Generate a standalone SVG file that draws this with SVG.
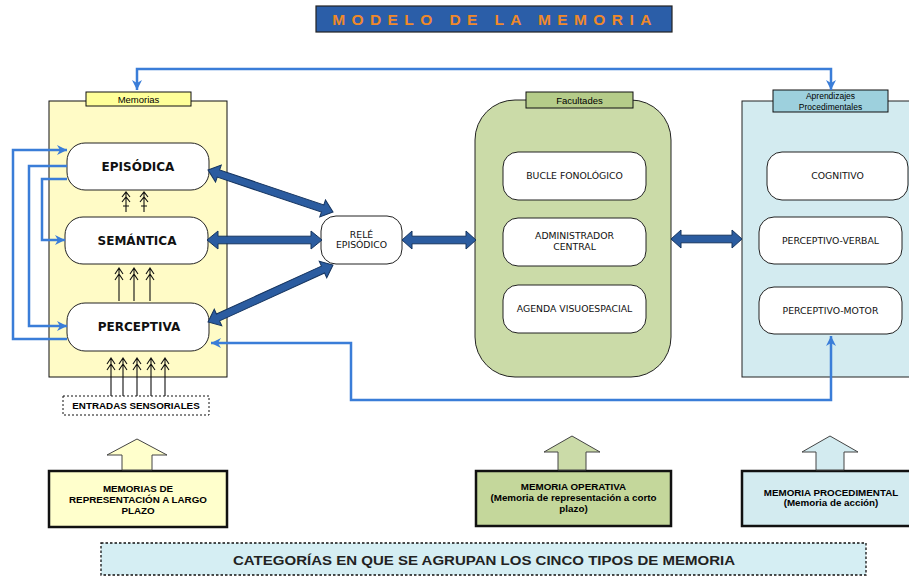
<svg xmlns="http://www.w3.org/2000/svg" width="909" height="576" viewBox="0 0 909 576">
<style>
.lbl{font-family:"Liberation Sans",Arial,sans-serif;fill:#000;text-anchor:middle}
.cm{font-family:"DejaVu Sans","Liberation Sans",sans-serif;fill:#111;text-anchor:middle}
.big{font-size:12px;font-weight:bold}
.sm{font-size:9.3px}
.bt{font-family:"Liberation Sans",Arial,sans-serif;font-size:9.8px;font-weight:bold;text-anchor:middle;fill:#000}
.ibox{fill:#fff;stroke:#222;stroke-width:1}
.thin{fill:none;stroke:#3a7dd8;stroke-width:2.5}
.blk{fill:#2b5ca0;stroke:#15345f;stroke-width:1}
.sa{fill:none;stroke:#111;stroke-width:1.1}
.bbox{stroke:#111;stroke-width:2.5}
.uarr{stroke:#444;stroke-width:1}
</style>
<defs>
<marker id="ah" markerUnits="userSpaceOnUse" markerWidth="11" markerHeight="10" refX="10" refY="5" orient="auto-start-reverse">
<path d="M0,0 L10,5 L0,10 L3,5 Z" fill="#3a7dd8"/>
</marker>
</defs>

<g id="title">
<rect x="316" y="6" width="356" height="26" fill="#2b5ea8" stroke="#222" stroke-width="1.2"/>
<text x="495" y="24.5" font-family="Liberation Sans,Arial,sans-serif" font-size="15.5" font-weight="bold" fill="#f0892a" text-anchor="middle" letter-spacing="6.4">MODELO DE LA MEMORIA</text>
</g>

<g id="memorias">
<rect x="49" y="101" width="178" height="276" fill="#fffbc6" stroke="#111" stroke-width="1"/>
<rect x="86" y="92" width="105" height="14" fill="#ffff99" stroke="#111" stroke-width="1"/>
<text class="lbl" x="138.5" y="102.5" font-size="9.5">Memorias</text>
</g>
<g id="episodica">
<rect class="ibox" x="67" y="143" width="142" height="47" rx="18"/>
<text class="cm big" x="138" y="171">EPISÓDICA</text>
</g>
<g id="semantica">
<rect class="ibox" x="65" y="217" width="143" height="47" rx="18"/>
<text class="cm big" x="137" y="244.5">SEMÁNTICA</text>
</g>
<g id="perceptiva">
<rect class="ibox" x="67" y="303" width="142" height="48" rx="18"/>
<text class="cm big" x="139" y="331">PERCEPTIVA</text>
</g>
<g id="entradas">
<rect x="63" y="396" width="146" height="19" fill="#fff" stroke="#111" stroke-width="1" stroke-dasharray="2,2"/>
<text class="bt" x="136" y="409" font-size="8.8">ENTRADAS SENSORIALES</text>
</g>

<g id="rele">
<rect class="ibox" x="321" y="216" width="81" height="48" rx="15"/>
<text class="cm sm" x="361.5" y="238">RELÉ</text>
<text class="cm sm" x="361.5" y="248">EPISÓDICO</text>
</g>

<g id="facultades">
<rect x="475" y="100" width="196" height="277" rx="40" fill="#cbdba8" stroke="#222" stroke-width="1"/>
<rect x="526" y="92" width="107" height="16" fill="#b5cc89" stroke="#111" stroke-width="1"/>
<text class="lbl" x="579.5" y="103.5" font-size="9.5">Facultades</text>
</g>
<g id="bucle">
<rect class="ibox" x="503" y="152" width="143" height="48" rx="15"/>
<text class="cm sm" x="574.5" y="179">BUCLE FONOLÓGICO</text>
</g>
<g id="administrador">
<rect class="ibox" x="503" y="218" width="143" height="48" rx="15"/>
<text class="cm sm" x="574.5" y="239">ADMINISTRADOR</text>
<text class="cm sm" x="574.5" y="250">CENTRAL</text>
</g>
<g id="agenda">
<rect class="ibox" x="503" y="285" width="143" height="48" rx="15"/>
<text class="cm sm" x="574.5" y="312">AGENDA VISUOESPACIAL</text>
</g>

<g id="aprendizajes">
<rect x="742" y="101" width="172" height="276" fill="#d3ebf0" stroke="#222" stroke-width="1"/>
<rect x="773" y="90" width="115" height="22" fill="#9dd0dd" stroke="#111" stroke-width="1"/>
<text class="lbl" x="830.5" y="99" font-size="8.5" fill="#222">Aprendizajes</text>
<text class="lbl" x="830.5" y="109.5" font-size="8.5" fill="#222">Procedimentales</text>
</g>
<g id="cognitivo">
<rect class="ibox" x="767" y="152" width="141" height="48" rx="15"/>
<text class="cm sm" x="837.5" y="179">COGNITIVO</text>
</g>
<g id="perceptivo-verbal">
<rect class="ibox" x="759" y="217" width="143" height="47" rx="15"/>
<text class="cm sm" x="830.5" y="243.5">PERCEPTIVO-VERBAL</text>
</g>
<g id="perceptivo-motor">
<rect class="ibox" x="759" y="287" width="143" height="47" rx="15"/>
<text class="cm sm" x="830.5" y="313.5">PERCEPTIVO-MOTOR</text>
</g>

<g id="largo-plazo">
<rect class="bbox" x="49" y="471" width="178" height="56" fill="#ffffcc"/>
<text class="bt" x="138" y="492">MEMORIAS DE</text>
<text class="bt" x="138" y="503">REPRESENTACIÓN A LARGO</text>
<text class="bt" x="138" y="514">PLAZO</text>
</g>
<g id="operativa">
<rect class="bbox" x="476" y="471" width="195" height="55" fill="#c4d79b"/>
<text class="bt" x="573.5" y="490">MEMORIA OPERATIVA</text>
<text class="bt" x="573.5" y="501">(Memoria de representación a corto</text>
<text class="bt" x="573.5" y="512">plazo)</text>
</g>
<g id="procedimental">
<rect class="bbox" x="742" y="471" width="172" height="55" fill="#d3ebf0"/>
<text class="bt" x="831" y="496">MEMORIA PROCEDIMENTAL</text>
<text class="bt" x="831" y="506">(Memoria de acción)</text>
</g>
<g id="categorias">
<rect x="101" y="543" width="765" height="32" fill="#d5eef3" stroke="#111" stroke-width="1.3" stroke-dasharray="2.5,2"/>
<text x="484" y="564.5" font-family="Liberation Sans,Arial,sans-serif" font-size="13.5" font-weight="bold" text-anchor="middle" fill="#222" textLength="502" lengthAdjust="spacingAndGlyphs">CATEGORÍAS EN QUE SE AGRUPAN LOS CINCO TIPOS DE MEMORIA</text>
</g>

<g id="connectors">
<path class="thin" d="M137,90 L137,69 L831,69 L831,90" marker-start="url(#ah)" marker-end="url(#ah)"/>
<path class="thin" d="M67,339 L13,339 L13,150 L67,150" marker-end="url(#ah)"/>
<path class="thin" d="M67,166 L29,166 L29,326 L67,326" marker-end="url(#ah)"/>
<path class="thin" d="M67,179 L42,179 L42,240 L65,240" marker-end="url(#ah)"/>
<path class="thin" d="M211,343 L351,343 L351,400 L831,400 L831,336" marker-start="url(#ah)" marker-end="url(#ah)"/>

<path class="blk" transform="translate(208,170) rotate(18.57)" d="M0,0 L11,-9 L11,-3.8 L120.9,-3.8 L120.9,-9 L131.9,0 L120.9,9 L120.9,3.8 L11,3.8 L11,9 Z"/>
<path class="blk" transform="translate(207,240)" d="M0,0 L11,-9 L11,-3.8 L104,-3.8 L104,-9 L115,0 L104,9 L104,3.8 L11,3.8 L11,9 Z"/>
<path class="blk" transform="translate(208,322) rotate(-24.52)" d="M0,0 L11,-9 L11,-3.8 L126.4,-3.8 L126.4,-9 L137.4,0 L126.4,9 L126.4,3.8 L11,3.8 L11,9 Z"/>
<path class="blk" transform="translate(402,240)" d="M0,0 L10,-9 L10,-3.8 L64,-3.8 L64,-9 L74,0 L64,9 L64,3.8 L10,3.8 L10,9 Z"/>
<path class="blk" transform="translate(671,239)" d="M0,0 L10,-9 L10,-3.8 L61,-3.8 L61,-9 L71,0 L61,9 L61,3.8 L10,3.8 L10,9 Z"/>

<path class="sa" d="M122,197 L126,192 L130,197 M122,202 L126,197 L130,202 M126,192 L126,212 M123,206 L129,206"/>
<path class="sa" d="M140,197 L144,192 L148,197 M140,202 L144,197 L148,202 M144,192 L144,212 M141,206 L147,206"/>

<path class="sa" d="M115,274 L119,268 L123,274 M115,280 L119,274 L123,280 M119,268 L119,301"/>
<path class="sa" d="M130,274 L134,268 L138,274 M130,280 L134,274 L138,280 M134,268 L134,301"/>
<path class="sa" d="M146,274 L150,268 L154,274 M146,280 L150,274 L154,280 M150,268 L150,301"/>

<path class="sa" d="M107,364 L111,358 L115,364 M107,370 L111,364 L115,370 M111,358 L111,396"/>
<path class="sa" d="M119,364 L123,358 L127,364 M119,370 L123,364 L127,370 M123,358 L123,396"/>
<path class="sa" d="M133,364 L137,358 L141,364 M133,370 L137,364 L141,370 M137,358 L137,396"/>
<path class="sa" d="M147,364 L151,358 L155,364 M147,370 L151,364 L155,370 M151,358 L151,396"/>
<path class="sa" d="M161,364 L165,358 L169,364 M161,370 L165,364 L169,370 M165,358 L165,396"/>

<path class="uarr" fill="#ffffcc" d="M137,439 L167,455 L152,455 L152,470 L122,470 L122,455 L107,455 Z"/>
<path class="uarr" fill="#cbdba8" d="M572,436 L600,452 L586,452 L586,470 L558,470 L558,452 L544,452 Z"/>
<path class="uarr" fill="#d3ebf0" d="M830,436 L858,452 L844,452 L844,470 L816,470 L816,452 L802,452 Z"/>
</g>
</svg>
